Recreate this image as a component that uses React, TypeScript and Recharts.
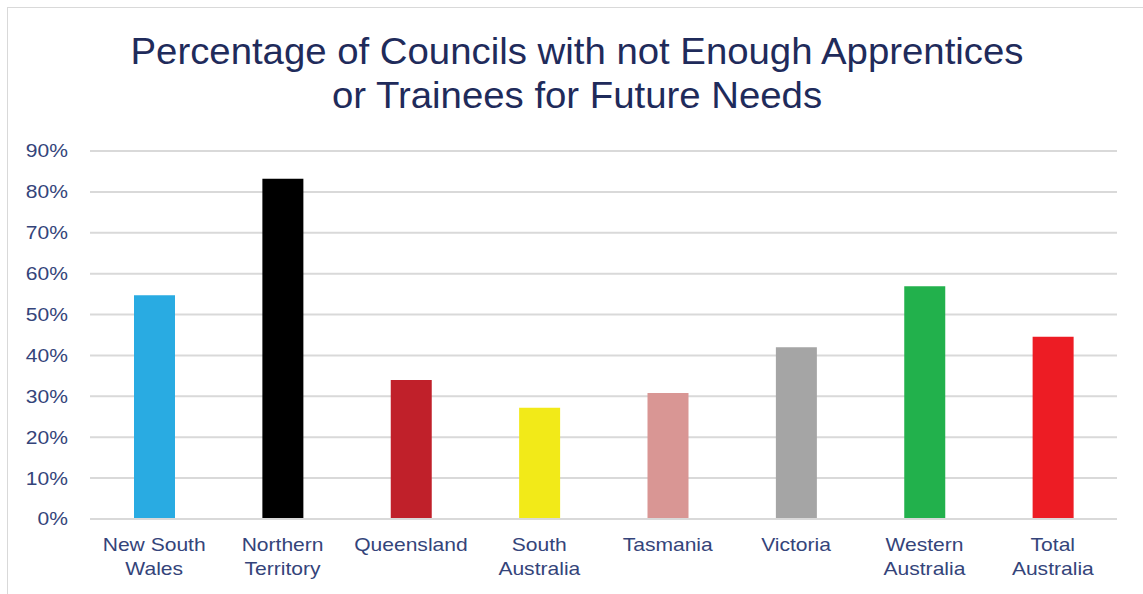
import React from 'react';
import { BarChart, Bar, XAxis, YAxis, CartesianGrid, Cell } from 'recharts';

const categories = [
  'New South Wales',
  'Northern Territory',
  'Queensland',
  'South Australia',
  'Tasmania',
  'Victoria',
  'Western Australia',
  'Total Australia',
];

// split points for the two-line axis labels
const labelLines: string[][] = [
  ['New South', 'Wales'],
  ['Northern', 'Territory'],
  ['Queensland'],
  ['South', 'Australia'],
  ['Tasmania'],
  ['Victoria'],
  ['Western', 'Australia'],
  ['Total', 'Australia'],
];

const percentNotEnough = [54.7, 83.2, 34.0, 27.2, 30.8, 42.0, 56.9, 44.6];

const barColors = ['#29abe2', '#000000', '#c0202a', '#f2ea18', '#d99694', '#a5a5a5', '#22b14c', '#ed1c24'];

const yTicks = [0, 10, 20, 30, 40, 50, 60, 70, 80, 90];

const data = categories.map((name, i) => ({ name, value: percentNotEnough[i] }));

const FONT = '"Liberation Sans", Arial, sans-serif';
const TEXT = '#34447a';
// the original picture is stretched a little horizontally
const STRETCH = 1.17;

const CategoryTick = (props: any) => {
  const { x, y, index } = props;
  const lines = labelLines[index] || [];
  return (
    <g transform={`translate(${x},${y}) scale(${STRETCH},1)`}>
      <text x={0} y={0} textAnchor="middle" fill={TEXT} fontSize={18} fontFamily={FONT}>
        {lines.map((l, i) => (
          <tspan key={i} x={0} y={32 + i * 24}>
            {l}
          </tspan>
        ))}
      </text>
    </g>
  );
};

const PercentTick = (props: any) => {
  const { x, y, payload } = props;
  return (
    <g transform={`translate(${x},${y}) scale(${STRETCH},1)`}>
      <text x={0} y={0} dy="0.355em" textAnchor="end" fill={TEXT} fontSize={18} fontFamily={FONT}>
        {`${payload.value}%`}
      </text>
    </g>
  );
};

export default function App() {
  return (
    <div style={{ position: 'absolute', left: 0, top: 0, width: 1143, height: 594, background: '#fff', fontFamily: FONT, overflow: 'hidden' }}>
      <div style={{ position: 'absolute', left: 7, top: 7, width: 1136, height: 1, background: '#d9d9d9' }} />
      <div style={{ position: 'absolute', left: 7, top: 7, width: 1, height: 587, background: '#d9d9d9' }} />
      <div
        style={{
          position: 'absolute',
          left: 77,
          top: 30,
          width: 1000,
          textAlign: 'center',
          fontSize: 36,
          lineHeight: '44px',
          color: '#1f2b5b',
          transform: 'scaleX(1.065)',
          transformOrigin: '500px 0',
        }}
      >
        Percentage of Councils with not Enough Apprentices
        <br />
        or Trainees for Future Needs
      </div>
      <BarChart
        width={1143}
        height={594}
        data={data}
        margin={{ top: 151, right: 26, bottom: 0, left: 0 }}
        barSize={41}
        style={{ position: 'absolute', left: 0, top: 0 }}
      >
        <CartesianGrid vertical={false} stroke="#d9d9d9" strokeWidth={2} />
        <XAxis
          dataKey="name"
          height={75}
          interval={0}
          tick={<CategoryTick />}
          tickLine={false}
          tickSize={0}
          tickMargin={0}
          axisLine={{ stroke: '#d9d9d9', strokeWidth: 2 }}
        />
        <YAxis
          width={90}
          domain={[0, 90]}
          ticks={yTicks}
          axisLine={false}
          tickLine={false}
          tickSize={0}
          tickMargin={22}
          tick={<PercentTick />}
        />
        <Bar dataKey="value" isAnimationActive={false}>
          {data.map((d, i) => (
            <Cell key={d.name} fill={barColors[i]} />
          ))}
        </Bar>
      </BarChart>
    </div>
  );
}
